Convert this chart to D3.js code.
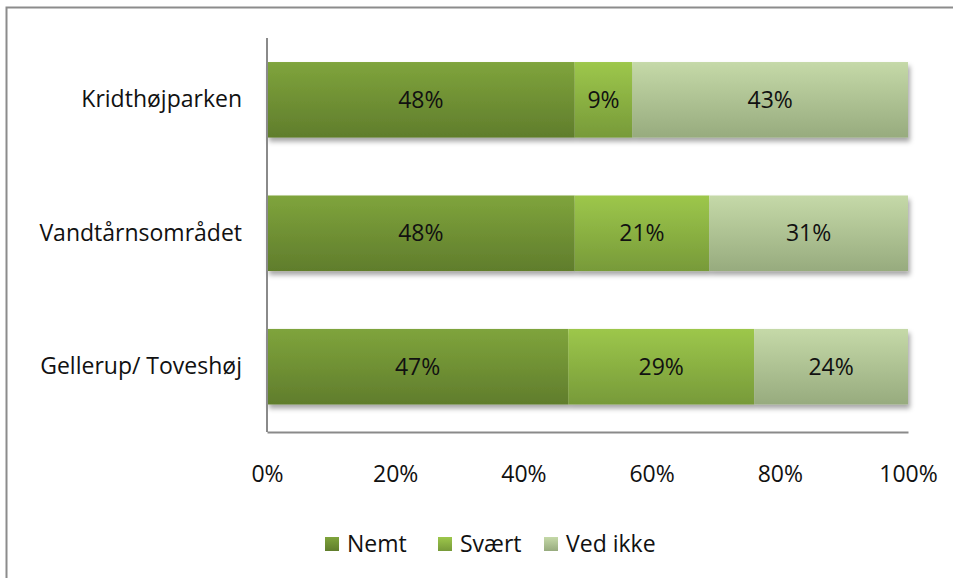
<!DOCTYPE html>
<html>
<head>
<meta charset="utf-8">
<script src="https://cdn.jsdelivr.net/npm/d3@7"></script>
<style>
  html, body { margin: 0; padding: 0; background: #fff; }
  svg { display: block; font-family: "Open Sans", Lato, sans-serif; }
</style>
</head>
<body>
<svg id="chart" width="953" height="578"></svg>
<script>
// Neighbourhoods, top to bottom
const categories = ["Kridthøjparken", "Vandtårnsområdet", "Gellerup/ Toveshøj"];
// Answer groups (stacked left to right)
const seriesNames = ["Nemt", "Svært", "Ved ikke"];
// Share of answers per neighbourhood, in percent
const nemt    = [48, 48, 47];
const svaert  = [9, 21, 29];
const vedIkke = [43, 31, 24];
// Axis ticks
const tickValues = [0, 20, 40, 60, 80, 100];

const seriesValues = [nemt, svaert, vedIkke];
const gradients = [
  ["#7fa43c", "#607d2c"],
  ["#9dc74b", "#779a39"],
  ["#c5d9a8", "#97ab7e"]
];
const FONT = "'Open Sans', Lato, sans-serif";
const FS = 23;

const svg = d3.select("#chart");

// Frame around the figure
svg.append("rect")
  .attr("x", 6.5).attr("y", 7.5)
  .attr("width", 1000).attr("height", 600)
  .attr("fill", "none").attr("stroke", "#8c8c8c").attr("stroke-width", 2);

const defs = svg.append("defs");
gradients.forEach((g, i) => {
  const lg = defs.append("linearGradient")
    .attr("id", "grad" + i).attr("x1", 0).attr("y1", 0).attr("x2", 0).attr("y2", 1);
  lg.append("stop").attr("offset", "0%").attr("stop-color", g[0]);
  lg.append("stop").attr("offset", "100%").attr("stop-color", g[1]);
});
const shadow = defs.append("filter").attr("id", "shadow")
  .attr("x", "-5%").attr("y", "-20%").attr("width", "110%").attr("height", "150%");
shadow.append("feDropShadow")
  .attr("dx", 2).attr("dy", 4).attr("stdDeviation", 2.5)
  .attr("flood-color", "#000").attr("flood-opacity", 0.35);

const x = d3.scaleLinear().domain([0, 100]).range([267, 908]);
const y = d3.scaleBand().domain(categories).range([34, 432.5]).paddingInner(0.434).paddingOuter(0.21);

// Stack rows
const rows = categories.map((c, i) => {
  const r = { cat: c };
  seriesNames.forEach((s, j) => r[s] = seriesValues[j][i]);
  return r;
});
const stacked = d3.stack().keys(seriesNames)(rows);

// Bars, one shadowed group per neighbourhood
const barGroups = svg.append("g").selectAll("g.row")
  .data(categories).join("g")
  .attr("class", "row")
  .attr("filter", "url(#shadow)");

barGroups.each(function(cat, ci) {
  const g = d3.select(this);
  stacked.forEach((layer, si) => {
    const d = layer[ci];
    g.append("rect")
      .attr("x", x(d[0]))
      .attr("y", y(cat))
      .attr("width", x(d[1]) - x(d[0]))
      .attr("height", y.bandwidth())
      .attr("fill", "url(#grad" + si + ")");
  });
});

// Value labels inside segments
stacked.forEach((layer) => {
  layer.forEach((d, ci) => {
    svg.append("text")
      .attr("x", (x(d[0]) + x(d[1])) / 2)
      .attr("y", y(categories[ci]) + y.bandwidth() / 2)
      .attr("dy", "0.35em")
      .attr("text-anchor", "middle")
      .attr("font-size", FS)
      .attr("fill", "#111")
      .text((d[1] - d[0]) + "%");
  });
});

// Axes
const xAxis = d3.axisBottom(x).tickValues(tickValues).tickFormat(d => d + "%").tickSize(0).tickPadding(34);
const gx = svg.append("g").attr("transform", "translate(0,432)").call(xAxis);
gx.select(".domain").attr("stroke", "#8a8a8a").attr("stroke-width", 2);
gx.selectAll("text").attr("font-size", FS).attr("fill", "#111").attr("font-family", FONT);

const yAxis = d3.axisLeft(y).tickSize(0).tickPadding(25);
const gy = svg.append("g").attr("transform", "translate(267,0)").call(yAxis);
gy.select(".domain").attr("stroke", "#8a8a8a").attr("stroke-width", 2).attr("d", "M0,38V432");
gy.selectAll("text").attr("font-size", FS).attr("fill", "#111").attr("font-family", FONT);

// Legend
const legendX = [325, 438, 544];
const legend = svg.append("g");
seriesNames.forEach((s, i) => {
  legend.append("rect")
    .attr("x", legendX[i]).attr("y", 537)
    .attr("width", 14).attr("height", 14)
    .attr("fill", "url(#grad" + i + ")");
  legend.append("text")
    .attr("x", legendX[i] + 22).attr("y", 544)
    .attr("dy", "0.35em")
    .attr("font-size", FS).attr("fill", "#111")
    .text(s);
});
</script>
</body>
</html>
